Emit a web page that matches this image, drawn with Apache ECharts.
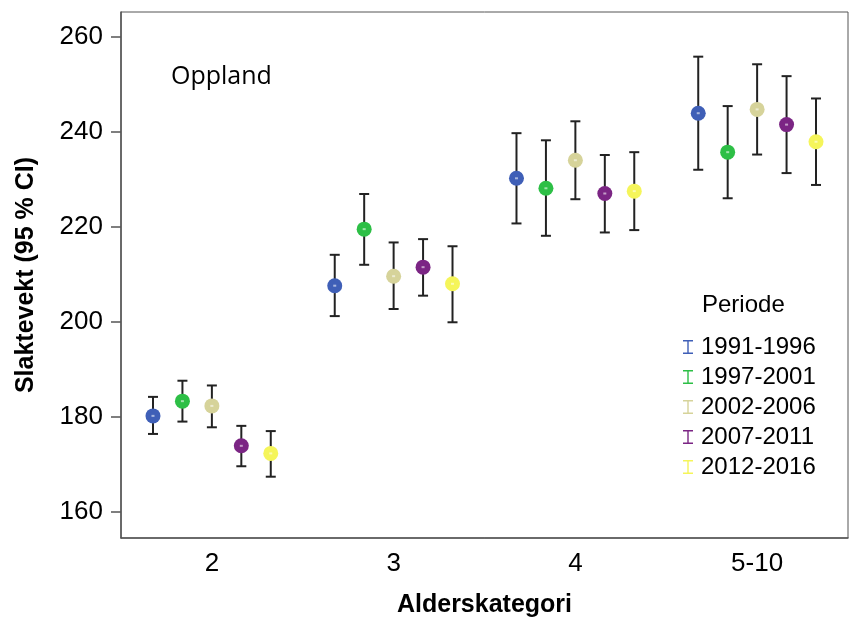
<!DOCTYPE html>
<html>
<head>
<meta charset="utf-8">
<script src="https://cdn.jsdelivr.net/npm/echarts@6/dist/echarts.min.js"></script>
<style>
  html, body { margin: 0; padding: 0; background: #fff; }
  #chart { width: 861px; height: 617px; }
</style>
</head>
<body>
<div id="chart"></div>
<script>
// aldersklasser og perioder
var categories = ['2', '3', '4', '5-10'];
var periods = ['1991-1996', '1997-2001', '2002-2006', '2007-2011', '2012-2016'];
var colors = ['#3f5fb7', '#2dbf46', '#d6d39a', '#7b2584', '#f5f55a'];
var yTicks = [160, 180, 200, 220, 240, 260];

// snitt, nedre og ovre grense (95 % CI)
var mean1991 = [180.2, 207.6, 230.2, 243.9];
var low1991  = [176.4, 201.2, 220.7, 232.0];
var high1991 = [184.2, 214.1, 239.7, 255.8];

var mean1997 = [183.3, 219.5, 228.1, 235.7];
var low1997  = [179.0, 212.0, 218.1, 226.0];
var high1997 = [187.6, 226.9, 238.2, 245.4];

var mean2002 = [182.3, 209.6, 234.0, 244.7];
var low2002  = [177.8, 202.7, 225.8, 235.2];
var high2002 = [186.6, 216.7, 242.2, 254.2];

var mean2007 = [173.9, 211.5, 227.0, 241.5];
var low2007  = [169.6, 205.5, 218.8, 231.3];
var high2007 = [178.1, 217.4, 235.1, 251.7];

var mean2012 = [172.3, 208.0, 227.5, 237.9];
var low2012  = [167.4, 199.9, 219.3, 228.8];
var high2012 = [177.0, 215.9, 235.7, 247.0];

var means = [mean1991, mean1997, mean2002, mean2007, mean2012];
var lows  = [low1991, low1997, low2002, low2007, low2012];
var highs = [high1991, high1997, high2002, high2007, high2012];

var chart = echarts.init(document.getElementById('chart'));

// I-formet ikon til legenden
var barIcon = 'path://M0,0H10V1.4H5.7V12.6H10V14H0V12.6H4.3V1.4H0Z';

function renderBar(params, api) {
    var band = api.size([1, 0])[0];
    var c = api.coord([api.value(0), api.value(1)]);
    var x = c[0] + (params.seriesIndex - 2) * 0.162 * band;
    var yLo = api.coord([api.value(0), api.value(2)])[1];
    var yHi = api.coord([api.value(0), api.value(3)])[1];
    var line = { stroke: '#222', lineWidth: 2 };
    return {
        type: 'group',
        children: [
            { type: 'line', shape: { x1: x, y1: yHi, x2: x, y2: yLo }, style: line },
            { type: 'line', shape: { x1: x - 5, y1: yHi, x2: x + 5, y2: yHi }, style: line },
            { type: 'line', shape: { x1: x - 5, y1: yLo, x2: x + 5, y2: yLo }, style: line },
            { type: 'circle', shape: { cx: x, cy: c[1], r: 7.5 }, style: { fill: colors[params.seriesIndex] } },
            { type: 'rect', shape: { x: x - 1.5, y: c[1] - 1, width: 3, height: 2 }, style: { fill: 'rgba(255,255,255,0.55)' } }
        ]
    };
}

var series = [];
for (var s = 0; s < periods.length; s++) {
    var data = [];
    for (var i = 0; i < categories.length; i++) {
        data.push([i, means[s][i], lows[s][i], highs[s][i]]);
    }
    series.push({
        name: periods[s],
        type: 'custom',
        renderItem: renderBar,
        itemStyle: { color: colors[s] },
        encode: { x: 0, y: [1, 2, 3] },
        data: data,
        z: 10
    });
}

var option = {
    backgroundColor: '#fff',
    animation: false,
    title: {
        text: 'Oppland',
        left: 166,
        top: 59,
        textStyle: { fontFamily: 'Open Sans', fontSize: 25, fontWeight: 'normal', color: '#000' }
    },
    graphic: [{
        type: 'text',
        left: 702,
        top: 293,
        style: { text: 'Periode', fontFamily: 'Liberation Sans', fontSize: 24, fill: '#000' }
    }],
    legend: {
        orient: 'vertical',
        left: 678,
        top: 330,
        itemWidth: 10,
        itemHeight: 14,
        itemGap: 6,
        textStyle: { fontFamily: 'Liberation Sans', fontSize: 24, color: '#000', padding: [0, 0, 0, 3] },
        data: periods.map(function (p) { return { name: p, icon: barIcon }; })
    },
    grid: {
        left: 121, top: 12, right: 13, bottom: 79,
        outerBoundsMode: 'none',
        show: true, borderColor: '#555', borderWidth: 1
    },
    xAxis: {
        type: 'category',
        data: categories,
        name: 'Alderskategori',
        nameLocation: 'middle',
        nameGap: 55,
        nameTextStyle: { fontFamily: 'Liberation Sans', fontSize: 25, fontWeight: 'bold', color: '#000' },
        axisLine: { lineStyle: { color: '#555', width: 1.5 } },
        axisTick: { alignWithLabel: true, length: 8, lineStyle: { color: '#555', width: 1.5 } },
        axisLabel: { fontFamily: 'Liberation Sans', fontSize: 26, color: '#000', margin: 13 },
        splitLine: { show: false }
    },
    yAxis: {
        type: 'value',
        min: 154.5,
        max: 265.2,
        name: 'Slaktevekt (95 % CI)',
        nameLocation: 'middle',
        nameGap: 82,
        nameTextStyle: { fontFamily: 'Liberation Sans', fontSize: 25, fontWeight: 'bold', color: '#000' },
        axisLine: { show: true, lineStyle: { color: '#555', width: 1.5 } },
        axisTick: { show: true, length: 10, customValues: yTicks, lineStyle: { color: '#555', width: 1.5 } },
        axisLabel: { fontFamily: 'Liberation Sans', fontSize: 26, color: '#000', margin: 18, customValues: yTicks },
        splitLine: { show: false }
    },
    series: series
};

chart.setOption(option);
</script>
</body>
</html>
